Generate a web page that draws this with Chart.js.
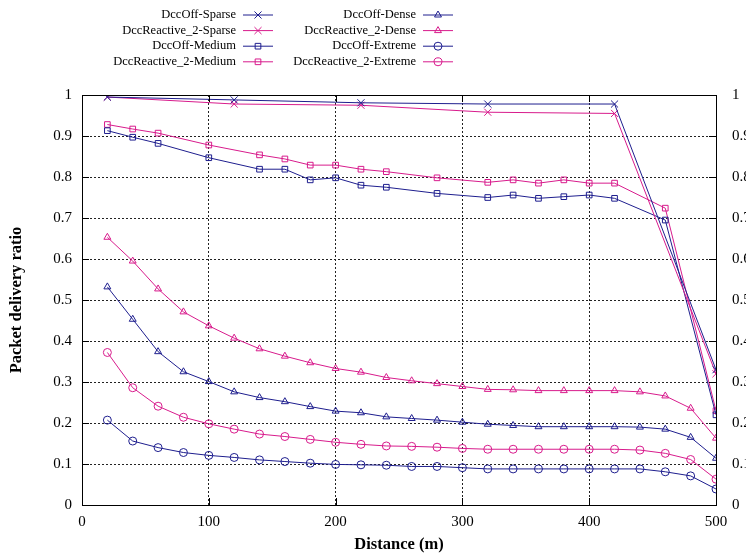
<!DOCTYPE html>
<html lang="en">
<head>
    <meta charset="UTF-8">
    <title>Packet delivery ratio vs distance</title>
    <style>
        body {
            margin: 0;
            overflow: hidden;
            background: #fff;
        }
        .chart-box {
            width: 760px;
            height: 558px;
        }
    </style>
    <script src="https://cdn.jsdelivr.net/npm/chart.js"></script>
</head>
<body>
    <div class="chart-box">
        <canvas id="pdrChart" width="760" height="558"></canvas>
    </div>
    <script>
        // distances (m)
        const sparseX = [20, 120, 220, 320, 420, 500];
        const mediumX = [20, 40, 60, 100, 140, 160, 180, 200, 220, 240, 280, 320, 340, 360, 380, 400, 420, 460, 500];
        const denseX = [20, 40, 60, 80, 100, 120, 140, 160, 180, 200, 220, 240, 260, 280, 300, 320, 340, 360, 380, 400, 420, 440, 460, 480, 500];

        // packet delivery ratio
        const offSparse = [0.995, 0.988, 0.981, 0.978, 0.978, 0.33];
        const reactSparse = [0.995, 0.978, 0.975, 0.958, 0.955, 0.32];
        const offMedium = [0.913, 0.897, 0.882, 0.847, 0.819, 0.819, 0.793, 0.798, 0.780, 0.775, 0.760, 0.750, 0.756, 0.748, 0.752, 0.756, 0.748, 0.695, 0.22];
        const reactMedium = [0.928, 0.917, 0.907, 0.878, 0.854, 0.844, 0.829, 0.829, 0.819, 0.813, 0.798, 0.787, 0.793, 0.785, 0.793, 0.785, 0.785, 0.724, 0.23];
        const offDense = [0.532, 0.453, 0.374, 0.325, 0.301, 0.276, 0.262, 0.252, 0.240, 0.229, 0.225, 0.215, 0.211, 0.207, 0.202, 0.197, 0.194, 0.191, 0.191, 0.191, 0.191, 0.190, 0.185, 0.165, 0.114];
        const reactDense = [0.653, 0.595, 0.527, 0.471, 0.437, 0.407, 0.381, 0.363, 0.347, 0.333, 0.324, 0.311, 0.303, 0.296, 0.289, 0.282, 0.281, 0.279, 0.279, 0.279, 0.279, 0.276, 0.266, 0.236, 0.163];
        const offExtreme = [0.207, 0.156, 0.140, 0.128, 0.121, 0.116, 0.110, 0.106, 0.102, 0.099, 0.098, 0.097, 0.094, 0.094, 0.091, 0.088, 0.088, 0.088, 0.088, 0.088, 0.088, 0.088, 0.081, 0.071, 0.039];
        const reactExtreme = [0.372, 0.286, 0.241, 0.214, 0.198, 0.185, 0.173, 0.167, 0.160, 0.153, 0.148, 0.144, 0.143, 0.141, 0.138, 0.136, 0.136, 0.136, 0.136, 0.136, 0.136, 0.134, 0.126, 0.111, 0.063];

        const BLUE = '#1e1e8e';
        const PINK = '#d81b8c';
        const FONT = "'Liberation Serif', 'DejaVu Serif', serif";

        function pts(xs, ys) {
            return xs.map((x, i) => ({ x: x, y: ys[i] }));
        }

        function series(label, xs, ys, color, style) {
            return {
                label: label,
                data: pts(xs, ys),
                borderColor: color,
                backgroundColor: 'transparent',
                pointBorderColor: color,
                pointBackgroundColor: 'transparent',
                borderWidth: 1,
                pointBorderWidth: 1,
                pointStyle: style,
                pointRadius: style === 'crossRot' ? 5 : 4,
                tension: 0,
                fill: false
            };
        }

        const datasets = [
            series('DccOff-Sparse', sparseX, offSparse, BLUE, 'crossRot'),
            series('DccReactive_2-Sparse', sparseX, reactSparse, PINK, 'crossRot'),
            series('DccOff-Medium', mediumX, offMedium, BLUE, 'rect'),
            series('DccReactive_2-Medium', mediumX, reactMedium, PINK, 'rect'),
            series('DccOff-Dense', denseX, offDense, BLUE, 'triangle'),
            series('DccReactive_2-Dense', denseX, reactDense, PINK, 'triangle'),
            series('DccOff-Extreme', denseX, offExtreme, BLUE, 'circle'),
            series('DccReactive_2-Extreme', denseX, reactExtreme, PINK, 'circle')
        ];

        // gnuplot-style key + frame with inward tick marks
        const keyPlugin = {
            id: 'gnuKey',
            afterDraw(chart) {
                const ctx = chart.ctx;
                ctx.save();
                ctx.font = '12.5px ' + FONT;
                ctx.textAlign = 'right';
                ctx.textBaseline = 'middle';
                chart.data.datasets.forEach((ds, i) => {
                    const col = i < 4 ? 0 : 1;
                    const row = i % 4;
                    const textRight = col === 0 ? 236 : 416;
                    const y = 15 + row * 15.6;
                    ctx.fillStyle = '#000';
                    ctx.fillText(ds.label, textRight, y);
                    ctx.strokeStyle = ds.borderColor;
                    ctx.fillStyle = 'rgba(0,0,0,0)';
                    ctx.lineWidth = 1;
                    ctx.beginPath();
                    ctx.moveTo(textRight + 7, y);
                    ctx.lineTo(textRight + 37, y);
                    ctx.stroke();
                    Chart.helpers.drawPoint(ctx, {
                        pointStyle: ds.pointStyle,
                        radius: ds.pointRadius,
                        borderWidth: 1,
                        rotation: 0
                    }, textRight + 22, y);
                });

                const a = chart.chartArea;
                ctx.strokeStyle = '#000';
                ctx.lineWidth = 1;
                ctx.strokeRect(a.left + 0.5, a.top + 0.5, a.right - a.left, a.bottom - a.top);
                ctx.beginPath();
                chart.scales.y.ticks.forEach((t) => {
                    const py = Math.round(chart.scales.y.getPixelForValue(t.value)) + 0.5;
                    ctx.moveTo(a.left, py); ctx.lineTo(a.left + 7, py);
                    ctx.moveTo(a.right, py); ctx.lineTo(a.right - 7, py);
                });
                chart.scales.x.ticks.forEach((t) => {
                    const px = Math.round(chart.scales.x.getPixelForValue(t.value)) + 0.5;
                    ctx.moveTo(px, a.bottom); ctx.lineTo(px, a.bottom - 7);
                    ctx.moveTo(px, a.top); ctx.lineTo(px, a.top + 7);
                });
                ctx.stroke();
                ctx.restore();
            }
        };

        const tickFont = { family: FONT, size: 15 };
        const titleFont = { family: FONT, size: 16.5, weight: 'bold' };
        const grid = {
            color: '#222',
            lineWidth: 1,
            drawTicks: false
        };

        const pdrChart = new Chart(document.getElementById('pdrChart'), {
            type: 'line',
            data: { datasets: datasets },
            options: {
                responsive: false,
                animation: false,
                layout: { padding: { top: 95 } },
                plugins: {
                    legend: { display: false },
                    tooltip: { enabled: false }
                },
                scales: {
                    x: {
                        type: 'linear',
                        min: 0,
                        max: 500,
                        afterFit: (s) => { s.height = 53; },
                        border: { display: false, dash: [2, 2] },
                        grid: grid,
                        ticks: { stepSize: 100, color: '#000', font: tickFont, padding: 8, maxRotation: 0 },
                        title: {
                            display: true,
                            text: 'Distance (m)',
                            color: '#000',
                            font: titleFont,
                            padding: { top: 0, bottom: 3 }
                        }
                    },
                    y: {
                        min: 0,
                        max: 1,
                        afterFit: (s) => { s.width = 82; },
                        border: { display: false, dash: [2, 2] },
                        grid: grid,
                        ticks: {
                            stepSize: 0.1,
                            color: '#000',
                            font: tickFont,
                            padding: 10,
                            callback: (v) => +v.toFixed(1)
                        },
                        title: {
                            display: true,
                            text: 'Packet delivery ratio',
                            color: '#000',
                            font: titleFont,
                            padding: { top: 7, bottom: 0 }
                        }
                    },
                    y2: {
                        position: 'right',
                        min: 0,
                        max: 1,
                        afterFit: (s) => { s.width = 44; },
                        border: { display: false },
                        grid: { display: false, drawTicks: false },
                        ticks: {
                            stepSize: 0.1,
                            color: '#000',
                            font: tickFont,
                            padding: 16,
                            callback: (v) => +v.toFixed(1)
                        }
                    }
                }
            },
            plugins: [keyPlugin]
        });
    </script>
</body>
</html>
